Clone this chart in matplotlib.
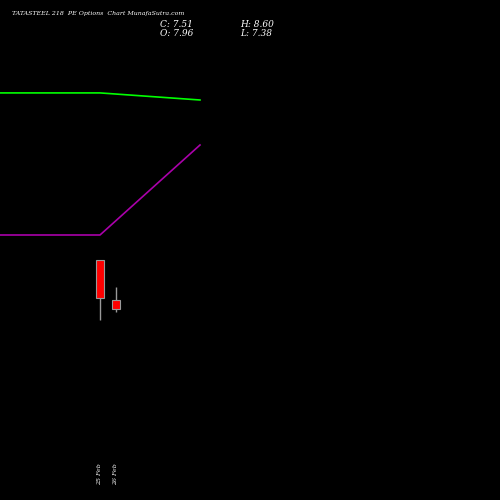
import matplotlib
matplotlib.use("Agg")
import matplotlib.pyplot as plt

dates = ["25 Feb", "26 Feb"]
opens = [9.88, 7.96]
closes = [8.06, 7.51]
highs = [9.88, 8.60]
lows = [7.0, 7.38]
line_x = [-6.25, 0, 6.25]
green = [17.9, 17.9, 17.56]
purple = [11.08, 11.08, 15.4]

fig = plt.figure(figsize=(5, 5), dpi=100, facecolor="black")
ax = fig.add_axes([0, 0, 1, 1], facecolor="black")
ax.set_xlim(-6.25, 25)
ax.set_ylim(-1.64, 22.36)
ax.axis("off")
ax.plot(line_x, green, color="#00ff00", lw=1.2)
ax.plot(line_x, purple, color="#aa00aa", lw=1.2)
for i in range(len(dates)):
    ax.vlines(i, lows[i], highs[i], color="#999999", lw=1, zorder=1)
    lo, hi = min(opens[i], closes[i]), max(opens[i], closes[i])
    col = "red" if closes[i] < opens[i] else "#00cc00"
    ax.bar(i, hi - lo, bottom=lo, width=0.55, color=col, edgecolor="#999999", lw=0.8, zorder=2)
    ax.text(i, -0.92, dates[i], rotation=90, color="white", fontsize=4.5,
            ha="center", va="bottom", family="DejaVu Serif", style="italic")
fig.text(0.024, 0.972, "TATASTEEL 218  PE Options  Chart MunafaSutra.com", color="white",
         fontsize=4.5, family="DejaVu Serif", style="italic", va="center")
fig.text(0.32, 0.951, "C: 7.51", color="white", fontsize=6.5, family="DejaVu Serif", style="italic", va="center")
fig.text(0.32, 0.933, "O: 7.96", color="white", fontsize=6.5, family="DejaVu Serif", style="italic", va="center")
fig.text(0.48, 0.951, "H: 8.60", color="white", fontsize=6.5, family="DejaVu Serif", style="italic", va="center")
fig.text(0.48, 0.933, "L: 7.38", color="white", fontsize=6.5, family="DejaVu Serif", style="italic", va="center")
fig.savefig("out.png", dpi=100, facecolor="black")
